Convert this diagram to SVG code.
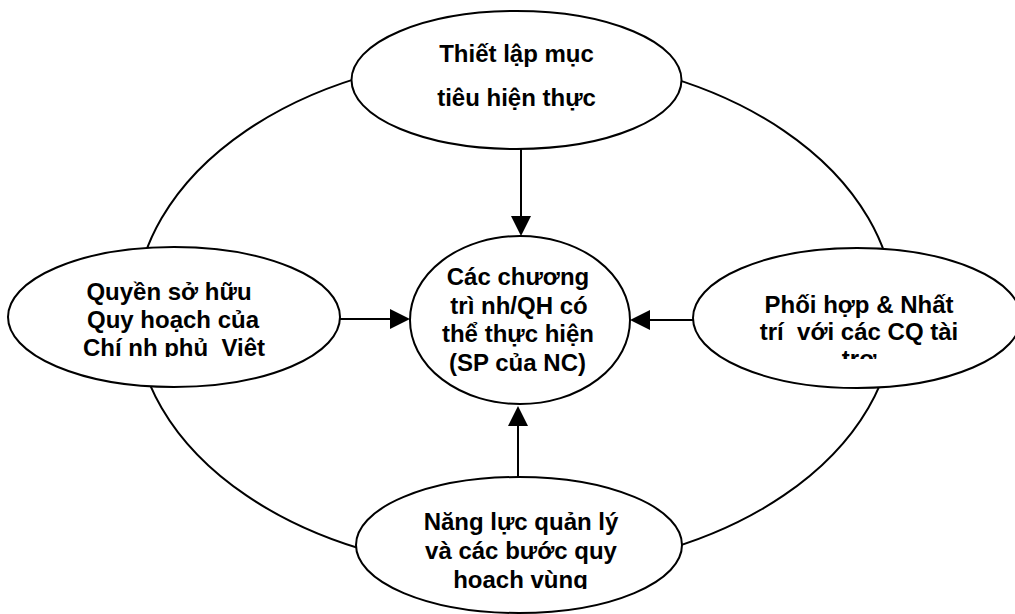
<svg xmlns="http://www.w3.org/2000/svg" width="1015" height="614" viewBox="0 0 1015 614">
<style>
.bg{fill:#fff}
.node{fill:#fff;stroke:#000;stroke-width:2}
.ring{fill:none;stroke:#000;stroke-width:2}
.lbl{font-family:"Liberation Sans",Arial,sans-serif;font-weight:bold;font-size:24px;fill:#000;text-anchor:middle;white-space:pre}
.conn{stroke:#000;stroke-width:2;fill:none;marker-end:url(#arr)}
</style>
<defs>
<marker id="arr" markerUnits="userSpaceOnUse" markerWidth="20" markerHeight="20" refX="0" refY="10" orient="auto">
<path d="M0,0 L20,10 L0,20 z" fill="#000"/>
</marker>
<clipPath id="clipL"><rect x="0" y="240" width="360" height="117"/></clipPath>
<clipPath id="clipR"><rect x="680" y="240" width="335" height="119"/></clipPath>
<clipPath id="clipB"><rect x="340" y="470" width="360" height="119"/></clipPath>
</defs>
<rect class="bg" x="0" y="0" width="1015" height="614"/>
<ellipse id="ring" class="ring" cx="515" cy="313" rx="380" ry="258"/>
<g id="node-top">
<ellipse class="node" cx="516.5" cy="80" rx="165" ry="69"/>
<text class="lbl" x="516.5" y="62">Thiết lập mục</text>
<text class="lbl" x="516.5" y="106">tiêu hiện thực</text>
</g>
<g id="node-left">
<ellipse class="node" cx="174" cy="317" rx="166" ry="70"/>
<g clip-path="url(#clipL)">
<text class="lbl" x="169" y="300">Quyền sở hữu</text>
<text class="lbl" x="173" y="328">Quy hoạch của</text>
<text class="lbl" x="174" y="356">Chí nh phủ  Việt</text>
</g>
</g>
<g id="node-right">
<ellipse class="node" cx="857" cy="318" rx="164" ry="70"/>
<g clip-path="url(#clipR)">
<text class="lbl" x="859" y="313">Phối hợp &amp; Nhất</text>
<text class="lbl" x="859" y="340">trí  với các CQ tài</text>
<text class="lbl" x="859" y="367">trợ</text>
</g>
</g>
<g id="node-bottom">
<ellipse class="node" cx="519" cy="545" rx="163" ry="68"/>
<g clip-path="url(#clipB)">
<text class="lbl" x="521" y="530">Năng lực quản lý</text>
<text class="lbl" x="521" y="559">và các bước quy</text>
<text class="lbl" x="520.5" y="588">hoạch vùng</text>
</g>
</g>
<g id="node-center">
<ellipse class="node" cx="520" cy="320" rx="110" ry="84"/>
<text class="lbl" x="518" y="285">Các chương</text>
<text class="lbl" x="519" y="313.5">trì nh/QH có</text>
<text class="lbl" x="518" y="342">thể thực hiện</text>
<text class="lbl" x="517.5" y="370.5">(SP của NC)</text>
</g>
<g id="connectors">
<line class="conn" x1="521" y1="149" x2="521" y2="216"/>
<line class="conn" x1="340" y1="319" x2="390" y2="319"/>
<line class="conn" x1="693" y1="320" x2="650" y2="320"/>
<line class="conn" x1="518" y1="477" x2="518" y2="426"/>
</g>
</svg>
